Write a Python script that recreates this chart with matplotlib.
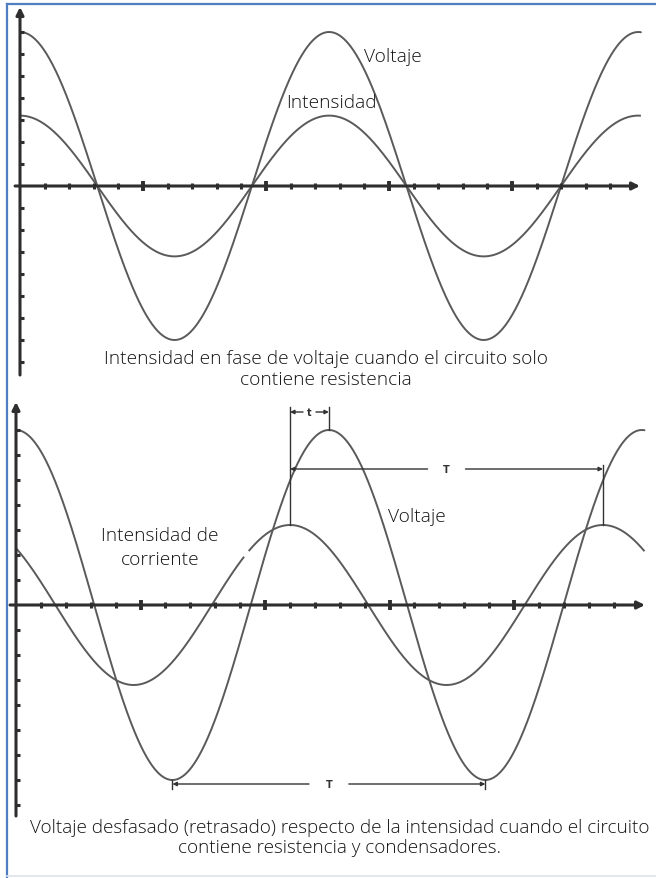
import numpy as np
import matplotlib
matplotlib.use("Agg")
import matplotlib.pyplot as plt

# ---- data ----
voltage_amp = 7.0          # in y-tick units
current_amp = 3.2          # in y-tick units
phase_top = 0.0            # rad, current in phase with voltage
phase_bottom = 0.78        # rad, current leads voltage
x_end = 12.62              # rad, where the curves stop
x_tick_step = 0.5          # rad between x ticks
x_tick_count = 24
x_major_every = 5          # every 5th tick is bigger
y_ticks = [-8, -7, -6, -5, -4, -3, -2, -1, 1, 2, 3, 4, 5, 6, 7]
gap_bottom_current = (4.585, 4.665)   # small break in the lower current curve (rad)

top_labels = ["Voltaje", "Intensidad"]
bottom_labels = ["Intensidad de\ncorriente", "Voltaje"]
caption_top = "Intensidad en fase de voltaje cuando el circuito solo\ncontiene resistencia"
caption_bottom = ("Voltaje desfasado (retrasado) respecto de la intensidad cuando el circuito\n"
                  "contiene resistencia y condensadores.")

W, H = 656, 879
FONT = ["Open Sans", "DejaVu Sans"]
FS = 13.8
FW = "light"
TXT = "#141414"
CURVE = "#5a5a5a"
AXC = "#2e2e2e"

fig = plt.figure(figsize=(W / 100, H / 100), dpi=100)
fig.patch.set_facecolor("white")


def px_axes(left, right, top, bottom):
    return fig.add_axes([left / W, 1 - bottom / H, (right - left) / W, (bottom - top) / H])


def draw_panel(ax, phase, x_px_per_rad, y_px_per_unit, y0_px, top_px, bottom_px,
               x_axis_start, x_axis_end, y_axis_top, y_axis_bottom, gap=None):
    ax.set_axis_off()
    width_px = ax.get_position().width * W
    ax.set_xlim(0, width_px / x_px_per_rad)
    ax.set_ylim(-(bottom_px - y0_px) / y_px_per_unit, (y0_px - top_px) / y_px_per_unit)
    x = np.linspace(0, x_end, 1500)
    ax.plot(x, voltage_amp * np.cos(x), color=CURVE, lw=1.4, solid_capstyle="round", zorder=3)
    cur = current_amp * np.cos(x + phase)
    if gap is not None:
        cur = np.where((x > gap[0]) & (x < gap[1]), np.nan, cur)
    ax.plot(x, cur, color=CURVE, lw=1.4, solid_capstyle="butt", zorder=3)
    # axes with arrows
    ax.annotate("", xy=(x_axis_end, 0), xytext=(x_axis_start, 0),
                arrowprops=dict(arrowstyle="-|>", lw=2.2, color=AXC, mutation_scale=11,
                                shrinkA=0, shrinkB=0), zorder=4)
    ax.annotate("", xy=(0, y_axis_top), xytext=(0, y_axis_bottom),
                arrowprops=dict(arrowstyle="-|>", lw=2.2, color=AXC, mutation_scale=11,
                                shrinkA=0, shrinkB=0), zorder=4)
    # ticks
    xt = np.arange(1, x_tick_count + 1) * x_tick_step
    minor = [v for i, v in enumerate(xt, 1) if i % x_major_every]
    major = [v for i, v in enumerate(xt, 1) if not i % x_major_every]
    ax.plot(minor, np.zeros(len(minor)), ls="none", marker="|", ms=4.5, mew=2.2, color=AXC, zorder=4)
    ax.plot(major, np.zeros(len(major)), ls="none", marker="|", ms=7, mew=2.8, color=AXC, zorder=4)
    ax.plot(np.zeros(len(y_ticks)), y_ticks, ls="none", marker="_", ms=6, mew=2.2, color=AXC, zorder=4)


# ---- top panel ----
ax1 = px_axes(20, W, 0, 380)
draw_panel(ax1, phase_top, 49.2, 22.0, 187, 0, 380,
           -0.1, 620 / 49.2, 179 / 22.0, -189 / 22.0)
ax1.text(6.99, 5.9, top_labels[0], fontsize=FS, family=FONT, fontweight=FW, color=TXT,
         ha="left", va="center")
ax1.text(5.4, 3.82, top_labels[1], fontsize=FS, family=FONT, fontweight=FW, color=TXT,
         ha="left", va="center")

# ---- bottom panel ----
ax2 = px_axes(16, W, 395, 822)
draw_panel(ax2, phase_bottom, 49.8, 25.0, 606, 395, 822,
           -0.12, 629 / 49.8, 203 / 25.0, -211 / 25.0, gap=gap_bottom_current)
ax2.text(2.89, 2.33, bottom_labels[0], fontsize=FS, family=FONT, fontweight=FW, color=TXT,
         ha="center", va="center", linespacing=1.4)
ax2.text(7.47, 3.58, bottom_labels[1], fontsize=FS, family=FONT, fontweight=FW, color=TXT,
         ha="left", va="center")

ANN = "#333333"
x_ip = 2 * np.pi - phase_bottom       # current peak
x_vp = 2 * np.pi                      # voltage peak
y_top_ann = 7.92
# verticals
ax2.plot([x_ip, x_ip], [current_amp, y_top_ann], color=ANN, lw=1.0, zorder=5)
ax2.plot([x_vp, x_vp], [voltage_amp, y_top_ann], color=ANN, lw=1.0, zorder=5)
ax2.plot([x_ip + 2 * np.pi] * 2, [current_amp, 5.62], color=ANN, lw=1.0, zorder=5)
# t arrows
yt = 7.72
xm = (x_ip + x_vp) / 2
ap = dict(arrowstyle="-|>", lw=1.0, color=ANN, mutation_scale=6, shrinkA=0, shrinkB=0)
ax2.annotate("", xy=(x_ip, yt), xytext=(xm - 0.13, yt), arrowprops=ap, zorder=5)
ax2.annotate("", xy=(x_vp, yt), xytext=(xm + 0.13, yt), arrowprops=ap, zorder=5)
ax2.text(xm, yt, "t", fontsize=7, family="DejaVu Sans", fontweight="bold", color=ANN,
         ha="center", va="center")
# T (current period)
yT = 5.44
xT = x_ip + np.pi
ax2.annotate("", xy=(x_ip, yT), xytext=(xT - 0.38, yT), arrowprops=ap, zorder=5)
ax2.annotate("", xy=(x_ip + 2 * np.pi, yT), xytext=(xT + 0.38, yT), arrowprops=ap, zorder=5)
ax2.text(xT, yT, "T", fontsize=7, family="DejaVu Sans", fontweight="bold", color=ANN,
         ha="center", va="center")
# T (voltage period, bottom)
yB = -7.16
x1, x2 = np.pi, 3 * np.pi
ax2.plot([x1, x1], [-voltage_amp, yB - 0.2], color=ANN, lw=1.0, zorder=5)
ax2.plot([x2, x2], [-voltage_amp, yB - 0.2], color=ANN, lw=1.0, zorder=5)
xB = (x1 + x2) / 2
ax2.annotate("", xy=(x1, yB), xytext=(xB - 0.4, yB), arrowprops=ap, zorder=5)
ax2.annotate("", xy=(x2, yB), xytext=(xB + 0.4, yB), arrowprops=ap, zorder=5)
ax2.text(xB, yB, "T", fontsize=7, family="DejaVu Sans", fontweight="bold", color=ANN,
         ha="center", va="center")

# ---- captions ----
fig.text(326 / W, 1 - 369.5 / H, caption_top, fontsize=FS, family=FONT, fontweight=FW, color=TXT,
         ha="center", va="center", linespacing=1.15)
fig.text(340 / W, 1 - 838 / H, caption_bottom, fontsize=13.6, family=FONT, fontweight=FW, color=TXT,
         ha="center", va="center", linespacing=1.08)

# ---- frame ----
fr = fig.add_axes([0, 0, 1, 1], zorder=-1)
fr.set_axis_off()
fr.set_xlim(0, W)
fr.set_ylim(H, 0)
fr.plot([7, W], [5, 5], color="#4f7fc0", lw=1.6)
fr.plot([7, 7], [5, H], color="#4f7fc0", lw=1.6)
fr.plot([7, W], [H - 2, H - 2], color="#dde3ea", lw=1.2)

fig.savefig("out.png", dpi=100, facecolor="white")
